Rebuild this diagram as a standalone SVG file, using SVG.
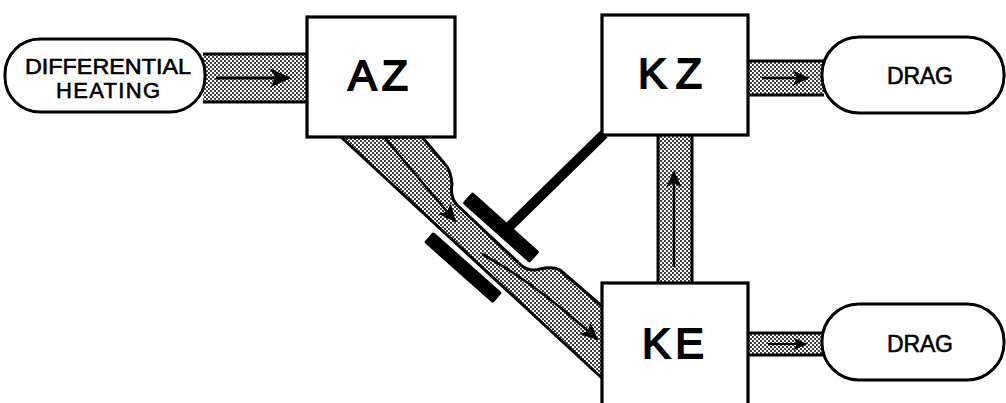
<svg xmlns="http://www.w3.org/2000/svg" width="1006" height="403" viewBox="0 0 1006 403">
  <defs>
    <!-- stippled fill used for the energy channels -->
    <pattern id="dots" width="4" height="4" patternUnits="userSpaceOnUse">
      <rect width="4" height="4" fill="#fff"/>
      <circle cx="1" cy="1" r="1" fill="#000"/>
      <circle cx="3" cy="3" r="1" fill="#000"/>
    </pattern>
    <marker id="head" viewBox="0 0 10 10" refX="9" refY="5" markerWidth="7" markerHeight="7" orient="auto" markerUnits="strokeWidth">
      <path d="M0,0.5 L10,5 L0,9.5 L2.5,5 Z" fill="#000"/>
    </marker>
    <style>
      .box { fill: #fff; stroke: #000; stroke-width: 3.2; }
      .pill { fill: #fff; stroke: #000; stroke-width: 3; }
      .chan { fill: url(#dots); stroke: #000; stroke-width: 3; stroke-linejoin: round; }
      .edge { fill: none; stroke: #000; stroke-width: 3; }
      .flow { fill: none; stroke: #000; stroke-width: 2.6; marker-end: url(#head); }
      .big { font-family: "Liberation Sans", "DejaVu Sans", sans-serif; font-size: 43px; text-anchor: middle; fill: #000; stroke: #000; stroke-width: 1.8; }
      .lbl { font-family: "Liberation Sans", "DejaVu Sans", sans-serif; font-size: 22px; text-anchor: middle; fill: #000; stroke: #000; stroke-width: 0.6; }
      .drag { font-family: "Liberation Sans", "DejaVu Sans", sans-serif; font-size: 23px; text-anchor: middle; fill: #000; stroke: #000; stroke-width: 0.6; }
    </style>
  </defs>

  <g id="connectors">
    <!-- differential heating -> AZ -->
    <rect x="203" y="54" width="106" height="48" fill="url(#dots)"/>
    <line class="edge" x1="203" y1="54" x2="309" y2="54"/>
    <line class="edge" x1="203" y1="102" x2="309" y2="102"/>
    <line class="flow" x1="216" y1="78" x2="289" y2="78" style="stroke-width:3"/>

    <!-- KZ -> upper drag -->
    <rect x="748" y="61" width="76" height="34" fill="url(#dots)"/>
    <line class="edge" x1="748" y1="61" x2="824" y2="61"/>
    <line class="edge" x1="748" y1="95" x2="824" y2="95"/>
    <line class="flow" x1="762" y1="78" x2="808" y2="78" style="stroke-width:2.4"/>

    <!-- KE -> lower drag -->
    <rect x="748" y="333" width="76" height="22" fill="url(#dots)"/>
    <line class="edge" x1="748" y1="333" x2="824" y2="333"/>
    <line class="edge" x1="748" y1="355" x2="824" y2="355"/>
    <line class="flow" x1="768" y1="344" x2="806" y2="344" style="stroke-width:2"/>

    <!-- KE -> KZ -->
    <rect x="658" y="135" width="34" height="148" fill="url(#dots)"/>
    <line class="edge" x1="658" y1="135" x2="658" y2="283"/>
    <line class="edge" x1="692" y1="135" x2="692" y2="283"/>
    <line class="flow" x1="674" y1="267" x2="674" y2="172" style="stroke-width:2.4"/>

    <!-- AZ -> KE conversion channel -->
    <path class="chan" d="M341,137 L604,380 L604,308 L560,270 Q552,266 540,269 Q530,272 522,266 L456,204 Q450,196 452,184 Q451,170 444,163 L422,137 Z"/>
    <path class="flow" d="M385,138 Q420,180 455,221" style="stroke-width:2.6"/>
    <path class="flow" d="M482,254 Q535,283 597,339" style="stroke-width:2.6"/>

    <!-- KZ inhibiting the conversion -->
    <line x1="604" y1="134" x2="509" y2="227" stroke="#000" stroke-width="10"/>
    <rect x="456" y="220" width="90" height="15" rx="2" fill="#000" transform="rotate(41.8 501 227.5)"/>
    <rect x="417" y="260.5" width="92" height="14" rx="2" fill="#000" transform="rotate(41.5 463 267.5)"/>
  </g>

  <g id="node-heating">
    <rect class="pill" x="5" y="39" width="200" height="73" rx="35" ry="35"/>
    <text class="lbl" x="108" y="74" textLength="166" lengthAdjust="spacingAndGlyphs">DIFFERENTIAL</text>
    <text class="lbl" x="108" y="98" textLength="104" lengthAdjust="spacing">HEATING</text>
  </g>

  <g id="node-az">
    <rect class="box" x="307" y="17" width="148" height="120"/>
    <text class="big" x="378" y="90" textLength="60" lengthAdjust="spacing">AZ</text>
  </g>

  <g id="node-kz">
    <rect class="box" x="602" y="15" width="146" height="120"/>
    <text class="big" x="670" y="88" textLength="64" lengthAdjust="spacing">KZ</text>
  </g>

  <g id="node-ke">
    <rect class="box" x="602" y="283" width="146" height="130"/>
    <text class="big" x="673" y="358" textLength="62" lengthAdjust="spacing">KE</text>
  </g>

  <g id="node-drag-upper">
    <rect class="pill" x="822" y="37" width="182" height="76" rx="37" ry="37"/>
    <text class="drag" x="920" y="84" textLength="66" lengthAdjust="spacing">DRAG</text>
  </g>

  <g id="node-drag-lower">
    <rect class="pill" x="822" y="304" width="182" height="76" rx="37" ry="37"/>
    <text class="drag" x="920" y="352" textLength="66" lengthAdjust="spacing">DRAG</text>
  </g>
</svg>
